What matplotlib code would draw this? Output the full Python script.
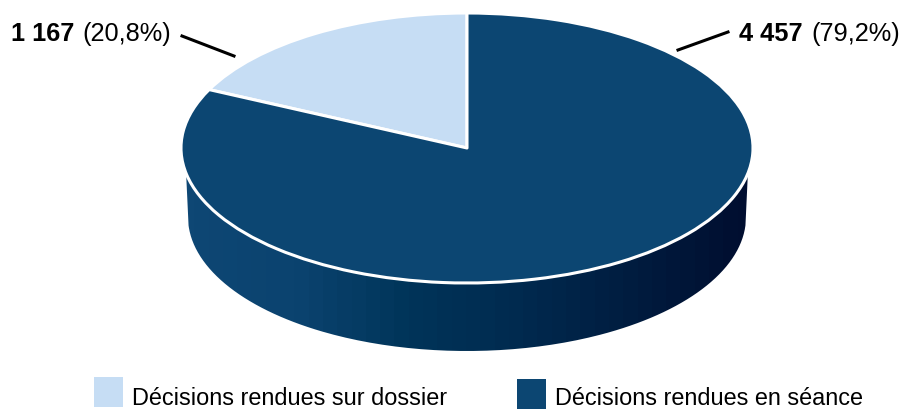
import numpy as np
import matplotlib
matplotlib.use("Agg")
import matplotlib.pyplot as plt
from matplotlib.colors import LinearSegmentedColormap
from matplotlib.patches import PathPatch, Rectangle
from matplotlib.path import Path
from matplotlib.transforms import Affine2D

plt.rcParams['font.family'] = ['Liberation Sans', 'DejaVu Sans']

# data
categories = ["Décisions rendues sur dossier", "Décisions rendues en séance"]
values = [1167, 4457]
value_labels = ["1 167", "4 457"]
pct_labels = ["(20,8%)", "(79,2%)"]
colors = ["#c6ddf4", "#0c4672"]

W, H = 902, 410
cx, cy, rx, ry = 467, 149, 286, 135   # top ellipse, pixels
cy2, rx2, ry2 = 218, 279, 134         # bottom ellipse of the wall
tilt = 0.57                           # perspective squeezes the angles

fig = plt.figure(figsize=(W / 100, H / 100), dpi=100)
ax = fig.add_axes([0, 0, 1, 1])

# the 3d view squeezes the small slice, so correct shares before the pie
a = 2 * np.pi * values[0] / sum(values)
drawn = np.arctan2(tilt * np.sin(a), np.cos(a)) / (2 * np.pi)

wedges, _ = ax.pie([drawn, 1 - drawn], colors=colors, startangle=90, counterclock=True,
                   radius=1, wedgeprops={"edgecolor": "white", "linewidth": 2.2, "zorder": 3})
ax.set_aspect("auto")
for w in wedges:
    w.set_joinstyle("round")
to_px = Affine2D().scale(rx, -ry).translate(cx, cy) + ax.transData
for w in wedges:
    w.set_transform(to_px)
ax.set_xlim(0, W)
ax.set_ylim(H, 0)
ax.axis("off")

# side wall with gradient
t = np.linspace(0, np.pi, 200)
top_x, top_y = cx - rx * np.cos(t), cy + ry * np.sin(t)
bot_x, bot_y = cx + rx2 * np.cos(t), cy2 + ry2 * np.sin(t)
keep = top_y > cy + 24
px = np.r_[top_x[keep], bot_x[bot_y > cy2 + 8], top_x[keep][0]]
py = np.r_[top_y[keep], bot_y[bot_y > cy2 + 8], top_y[keep][0]]
wall_path = Path(np.c_[px, py])
cmap = LinearSegmentedColormap.from_list("wall", ["#0e4774", "#0b436f", "#003459",
                                                  "#002a4f", "#001c3f", "#000e30"])
grad = np.round(np.linspace(0, 1, 40) * 39) / 39
im = ax.imshow(grad[None, :], cmap=cmap, extent=(180, 752, 360, 150), aspect="auto", zorder=1)
im.set_clip_path(PathPatch(wall_path, transform=ax.transData))
ax.set_xlim(0, W)
ax.set_ylim(H, 0)

# leader lines
ax.plot([182, 234], [37, 57], color="black", lw=2.2, zorder=4)
ax.plot([678, 728], [51, 33], color="black", lw=2.2, zorder=4)

# labels
fs = 18.3
ax.text(11, 34, value_labels[0], fontsize=fs, fontweight="bold", va="center")
ax.text(82, 34, pct_labels[0], fontsize=fs, va="center")
ax.text(739, 34, value_labels[1], fontsize=fs, fontweight="bold", va="center")
ax.text(811, 34, pct_labels[1], fontsize=fs, va="center")

# legend
fs_leg = 16.9
ax.add_patch(Rectangle((94, 378), 29, 30, color=colors[0], lw=0))
ax.text(132, 398.5, categories[0], fontsize=fs_leg, va="center")
ax.add_patch(Rectangle((517, 380), 29, 30, color=colors[1], lw=0))
ax.text(555, 399, categories[1], fontsize=fs_leg, va="center")

fig.savefig("out.png", dpi=100)
